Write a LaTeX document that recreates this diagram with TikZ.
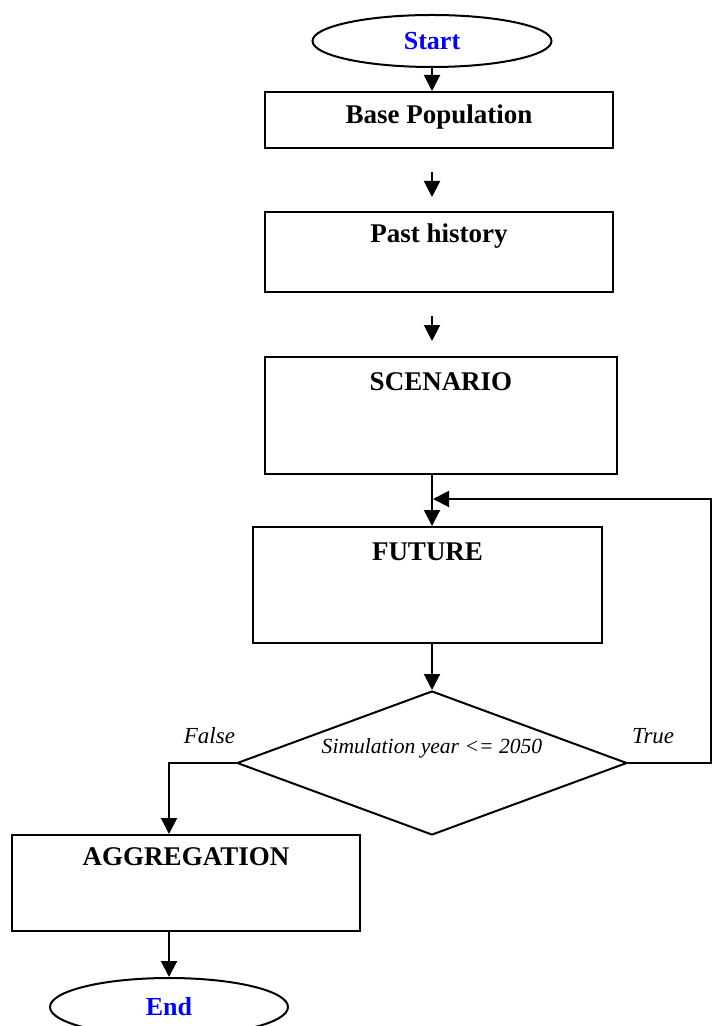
\documentclass[tikz,border=0pt]{standalone}
\usepackage{fontspec}
\setmainfont{Liberation Serif}
\usetikzlibrary{shapes.geometric,arrows.meta,positioning}
\begin{document}
\begin{tikzpicture}[x=0.5pt,y=-0.5pt,line width=1pt,
  stepbox/.style={draw, rectangle, inner sep=0},
  termbox/.style={draw, ellipse, inner sep=0, text=blue, font=\fontsize{13}{15}\selectfont\bfseries},
  boxlbl/.style={anchor=center, font=\fontsize{13.5}{16}\selectfont\bfseries},
  condbox/.style={draw, diamond, inner sep=0},
  caselbl/.style={inner sep=0, font=\fontsize{11.5}{14}\selectfont\itshape},
  arr/.style={-{Triangle[length=8pt,width=8pt]}}]
\useasboundingbox (0,0) rectangle (712,1026);
\node[termbox, minimum width=119.5pt, minimum height=26pt] (start) at (432,41){Start};
\node[stepbox, minimum width=174pt, minimum height=28pt, label={[boxlbl, yshift=-13pt]north:Base Population}] (base) at (439,120){};
\node[stepbox, minimum width=174pt, minimum height=40pt, label={[boxlbl, yshift=-12.5pt]north:Past history}] (past) at (439,252){};
\node[stepbox, minimum width=176pt, minimum height=58.5pt, label={[boxlbl, yshift=-13pt]north:SCENARIO}] (scen) at (441,415.5){};
\node[stepbox, minimum width=174.5pt, minimum height=58pt, label={[boxlbl, yshift=-13pt]north:FUTURE}] (fut) at (427.5,585){};
\node[condbox, minimum width=195pt, minimum height=72pt, label={[caselbl, font=\fontsize{10.8}{13}\selectfont\itshape, yshift=7.5pt]center:Simulation year <= 2050}] (cond) at (432,763){};
\node[caselbl, above left=9pt and 0pt of cond.west] (no) {False};
\node[caselbl, above right=9pt and 1.5pt of cond.east] (yes) {True};
\node[stepbox, minimum width=174pt, minimum height=48pt, label={[boxlbl, yshift=-11.5pt]north:AGGREGATION}] (agg) at (186,883){};
\node[termbox, minimum width=119pt, minimum height=29pt] (endn) at (169,1007){End};
\coordinate (turn) at (711,499);
\coordinate (merge) at (433,499);
\draw[arr] (start) -- (base.north -| start);
\draw[arr, shorten <=11.5pt, shorten >=7pt] (base.south -| start) -- (past.north -| start);
\draw[arr, shorten <=11.5pt, shorten >=7.5pt] (past.south -| start) -- (scen.north -| start);
\draw[arr] (scen.south -| start) -- (fut.north -| start);
\draw[arr] (fut.south -| start) -- (cond.north);
\draw[arr] (cond.east) -| (turn) -- (merge);
\draw[arr] (cond.west) -| (agg.north -| endn.north);
\draw[arr] (agg.south -| endn.north) -- (endn.north);
\end{tikzpicture}
\end{document}
